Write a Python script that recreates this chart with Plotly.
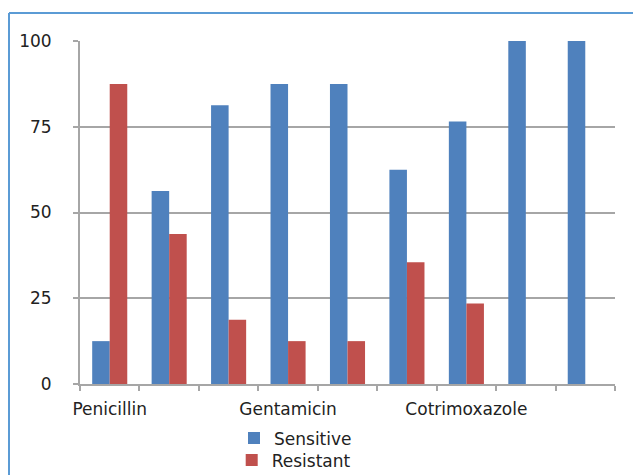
import plotly.graph_objects as go

# Data
positions = [0, 1, 2, 3, 4, 5, 6, 7, 8]
tick_labels = ["Penicillin", "", "", "Gentamicin", "", "", "Cotrimoxazole", "", ""]
sensitive = [12.5, 56.25, 81.25, 87.5, 87.5, 62.5, 76.5, 100, 100]
resistant = [87.5, 43.75, 18.75, 12.5, 12.5, 35.5, 23.5, 0, 0]
y_ticks = [0, 25, 50, 75, 100]

FONT = "DejaVu Sans"
GRID = "#a6a6a6"

# plot area (figure coords): x 72..607, y 33..376  (page adds 8px body margin)
PL, PR, PT, PB = 72, 607, 33, 376
PW, PH = PR - PL, PB - PT


def px(x):
    return (x - PL) / PW


def py(y):
    return (PB - y) / PH


fig = go.Figure()
fig.add_trace(go.Bar(x=positions, y=sensitive, name="Sensitive", legend="legend",
                     marker=dict(color="#4f81bd", line=dict(width=0))))
fig.add_trace(go.Bar(x=positions, y=resistant, name="Resistant", legend="legend2",
                     marker=dict(color="#c0504d", line=dict(width=0))))

leg_common = dict(orientation="v", xanchor="left", yanchor="top",
                  font=dict(family=FONT, size=17, color="#222222"),
                  bgcolor="rgba(0,0,0,0)")

fig.update_layout(
    width=633, height=467,
    margin=dict(l=PL, r=633 - PR, t=PT, b=467 - PB, autoexpand=False),
    paper_bgcolor="white", plot_bgcolor="white",
    barmode="group", bargap=0.41, bargroupgap=0,
    font=dict(family=FONT, size=17, color="#222222"),
    showlegend=True,
    legend=dict(x=px(226), y=py(412.5), **leg_common),
    legend2=dict(x=px(223.7), y=py(434.5), **leg_common),
    xaxis=dict(
        range=[-0.5, 8.5], tickmode="array", tickvals=positions, ticktext=tick_labels,
        ticks="", showgrid=False, showline=True, linecolor=GRID, linewidth=2,
        zeroline=False, fixedrange=True, ticklabelstandoff=9,
        minor=dict(tick0=-0.5, dtick=1, ticks="outside", ticklen=5,
                   tickcolor=GRID, tickwidth=2, showgrid=False),
    ),
    yaxis=dict(
        range=[0, 100], tickmode="array", tickvals=y_ticks,
        ticks="outside", ticklen=5, tickcolor=GRID, tickwidth=2,
        showgrid=True, gridcolor=GRID, gridwidth=2,
        showline=True, linecolor=GRID, linewidth=2, zeroline=False,
        ticklabelstandoff=18,
    ),
    shapes=[
        dict(type="line", xref="paper", yref="paper",
             x0=px(1), x1=px(1), y0=py(5), y1=py(480),
             line=dict(color="#5b9bd5", width=2)),
        dict(type="line", xref="paper", yref="paper",
             x0=px(1), x1=px(645), y0=py(5), y1=py(5),
             line=dict(color="#5b9bd5", width=2)),
    ],
)

fig.write_html("out.html")
